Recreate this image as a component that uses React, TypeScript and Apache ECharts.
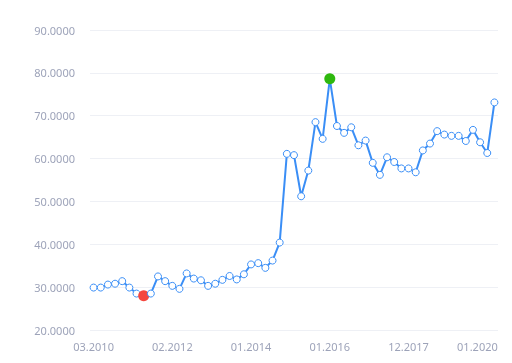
import React, { useEffect, useRef } from "react";
import * as echarts from "echarts";

const categories: string[] = [
  "03.2010", "05.2010", "07.2010", "09.2010", "11.2010", "01.2011", "03.2011", "05.2011",
  "07.2011", "09.2011", "11.2011", "02.2012", "04.2012", "06.2012", "08.2012", "10.2012",
  "12.2012", "02.2013", "04.2013", "06.2013", "08.2013", "10.2013", "01.2014", "03.2014",
  "05.2014", "07.2014", "09.2014", "11.2014", "01.2015", "03.2015", "05.2015", "07.2015",
  "09.2015", "01.2016", "03.2016", "05.2016", "07.2016", "09.2016", "11.2016", "01.2017",
  "03.2017", "05.2017", "07.2017", "09.2017", "12.2017", "02.2018", "04.2018", "06.2018",
  "08.2018", "10.2018", "12.2018", "02.2019", "04.2019", "06.2019", "08.2019", "10.2019",
  "01.2020",
];

const values: number[] = [
  29.9, 29.9, 30.6, 30.8, 31.4, 29.9, 28.5, 28.0, 28.5, 32.5, 31.4, 30.3, 29.6, 33.2, 32.0, 31.6,
  30.3, 30.8, 31.7, 32.6, 31.8, 33.0, 35.3, 35.6, 34.5, 36.2, 40.4, 61.1, 60.8, 51.2, 57.2, 68.5,
  64.6, 78.6, 67.6, 66.0, 67.3, 63.1, 64.2, 59.0, 56.2, 60.3, 59.2, 57.7, 57.7, 56.8, 61.9, 63.5,
  66.4, 65.6, 65.3, 65.3, 64.1, 66.7, 63.8, 61.3, 73.1,
];

const xTickLabels: string[] = ["03.2010", "02.2012", "01.2014", "01.2016", "12.2017", "01.2020"];

const Y_MIN = 20;
const Y_MAX = 90;
const Y_STEP = 10;

export default function App() {
  const ref = useRef<HTMLDivElement>(null);
  useEffect(() => {
    if (!ref.current) return;
    const chart = echarts.init(ref.current, undefined, { renderer: "svg" });
    const maxV = Math.max(...values);
    const minV = Math.min(...values);
    const data = values.map((v) => {
      if (v === maxV)
        return { value: v, symbolSize: 11, itemStyle: { color: "#2eb80e", borderColor: "#2eb80e", borderWidth: 0 } };
      if (v === minV)
        return { value: v, symbolSize: 11, itemStyle: { color: "#f5473f", borderColor: "#f5473f", borderWidth: 0 } };
      return v;
    });
    const lastLabel = categories[categories.length - 1];
    const textColor = "#9da3b9";
    chart.setOption({
      animation: false,
      grid: { left: 90, right: 14, top: 30, bottom: 33, containLabel: false, outerBoundsMode: "none" },
      xAxis: {
        type: "category",
        data: categories,
        boundaryGap: true,
        axisLine: { show: false },
        axisTick: { show: false },
        axisLabel: {
          color: textColor,
          fontSize: 11,
          fontFamily: "Noto Sans",
          margin: 11,
          align: "center",
          interval: (_i: number, v: string) => xTickLabels.includes(v),
          formatter: (v: string) => (v === lastLabel ? `{r|${v}}` : v),
          rich: {
            r: {
              color: textColor,
              fontSize: 11,
              fontFamily: "Noto Sans",
              padding: [0, 34, 0, 0],
            },
          },
        },
        splitLine: { show: false },
      },
      yAxis: {
        type: "value",
        min: Y_MIN,
        max: Y_MAX,
        interval: Y_STEP,
        axisLine: { show: false },
        axisTick: { show: false },
        axisLabel: {
          color: textColor,
          fontSize: 11,
          fontFamily: "Noto Sans",
          margin: 15,
          formatter: (v: number) => v.toFixed(4),
        },
        splitLine: { lineStyle: { color: "#eef0f5", width: 1 } },
      },
      series: [
        {
          type: "line",
          data,
          symbol: "circle",
          symbolSize: 7,
          showAllSymbol: true,
          lineStyle: { color: "#3a8ef6", width: 2 },
          itemStyle: { color: "#ffffff", borderColor: "#3a8ef6", borderWidth: 1 },
        },
      ],
    });
    return () => chart.dispose();
  }, []);
  return (
    <div
      ref={ref}
      style={{ position: "fixed", left: 0, top: 0, width: 512, height: 363 }}
    />
  );
}
